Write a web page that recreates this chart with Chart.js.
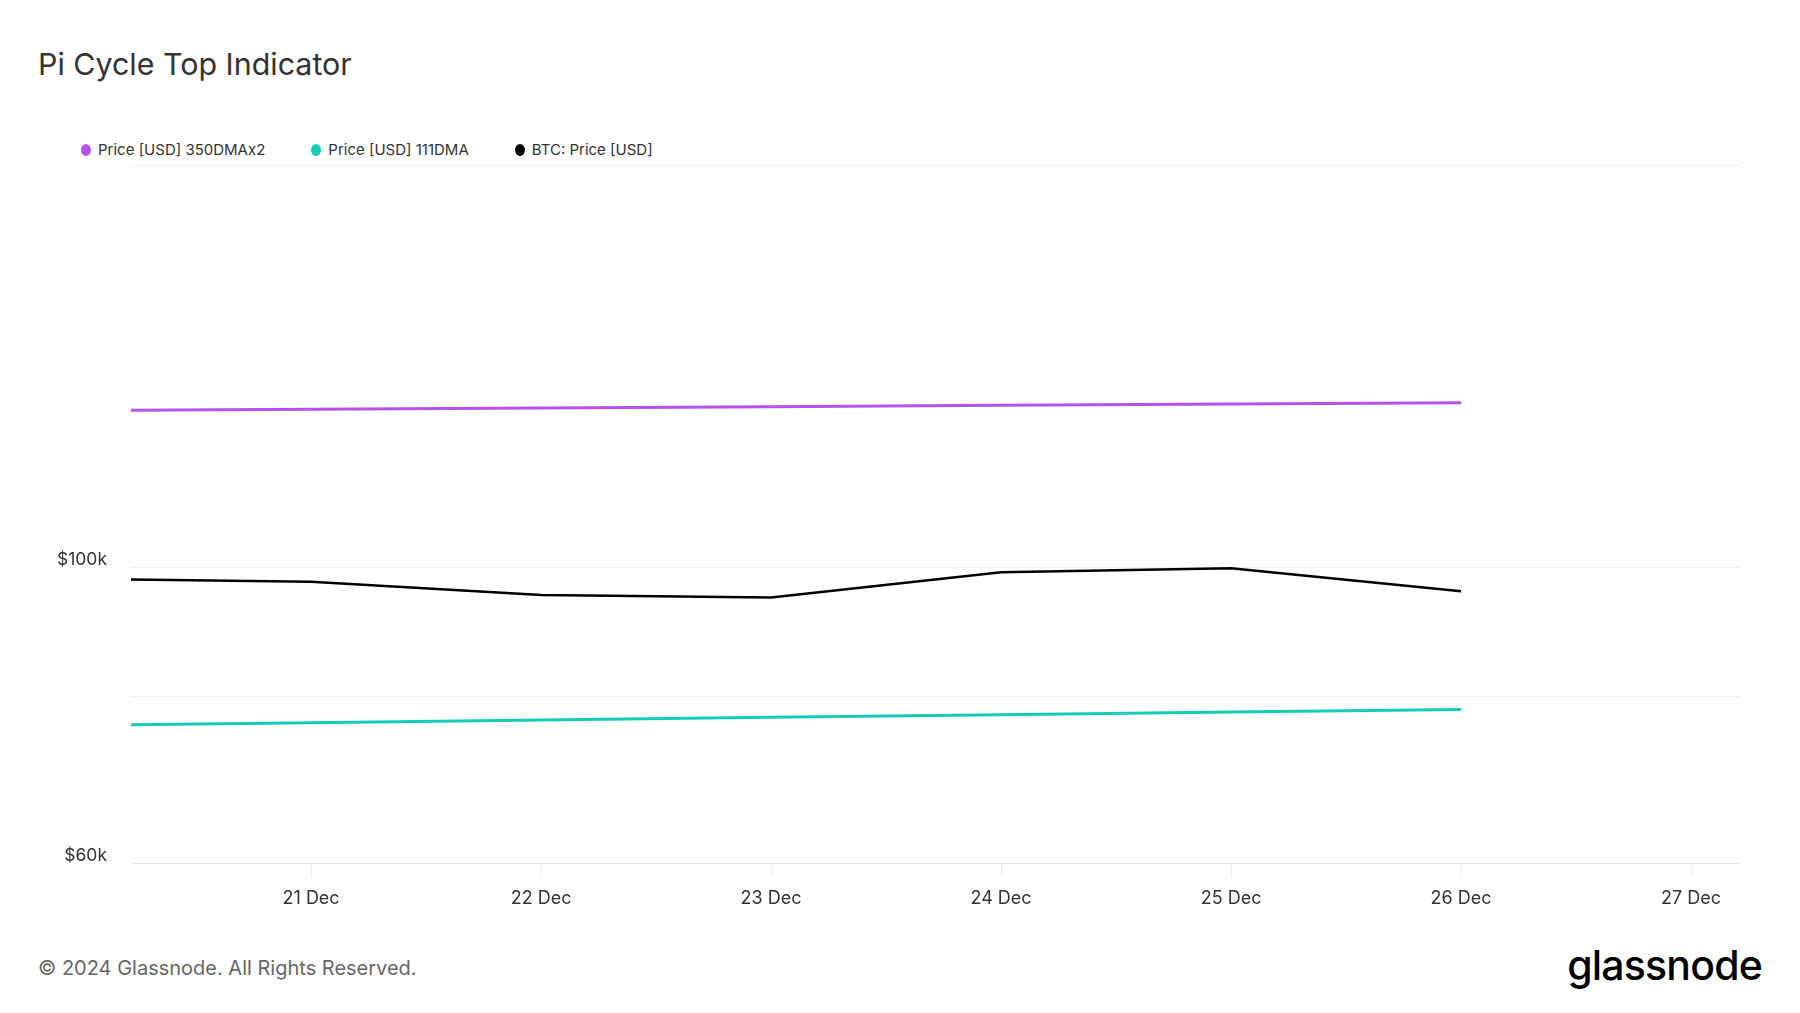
<!DOCTYPE html>
<html>
<head>
<meta charset="utf-8">
<script src="https://cdn.jsdelivr.net/npm/chart.js@4/dist/chart.umd.min.js"></script>
<style>
  html, body { margin: 0; padding: 0; background: #fff; }
  body { width: 1800px; height: 1013px; position: relative; overflow: hidden; font-family: Inter, "Noto Sans", sans-serif; }
  #title { position: absolute; left: 38px; top: 44px; font-size: 30.4px; color: #333; line-height: 40px; }
  #legend { position: absolute; left: 81px; top: 140px; display: flex; gap: 46px; font-size: 15px; color: #333; line-height: 20px; }
  #legend .item { display: flex; align-items: center; }
  #legend .dot { width: 10px; height: 12px; border-radius: 50%; margin-right: 7px; }
  #wrap { position: absolute; left: 0; top: 131px; width: 1800px; height: 809px; }
  #footer { position: absolute; left: 38px; top: 954px; font-size: 20px; color: #666; line-height: 28px; }
  #logo { position: absolute; right: 38px; top: 940px; font-size: 41px; font-weight: 500; color: #000; letter-spacing: -0.8px; line-height: 50px; }
</style>
</head>
<body>
<div id="title">Pi Cycle Top Indicator</div>
<div id="legend"></div>
<div id="wrap"><canvas id="chart"></canvas></div>
<div id="footer">© 2024 Glassnode. All Rights Reserved.</div>
<div id="logo">glassnode</div>
<script>
// days of December 2024
const days = [20, 21, 22, 23, 24, 25, 26];
const sma350x2 = [131000, 131300, 131600, 131900, 132200, 132500, 132800];
const dma111 = [76100, 76450, 76800, 77150, 77500, 77850, 78200];
const btcPrice = [98000, 97500, 95300, 94900, 99100, 99800, 95900];

const xTicks = [21, 22, 23, 24, 25, 26, 27];
const yTicks = [60000, 80000, 100000, 200000];
const yLabels = { 60000: '$60k', 100000: '$100k' };

const seriesNames = ['Price [USD] 350DMAx2', 'Price [USD] 111DMA', 'BTC: Price [USD]'];
const seriesColors = ['#b452f0', '#14cdb8', '#000000'];
const seriesValues = [sma350x2, dma111, btcPrice];

document.addEventListener('DOMContentLoaded', function() {
    // legend
    const legend = document.getElementById('legend');
    seriesNames.forEach(function(name, i) {
        const item = document.createElement('div');
        item.className = 'item';
        item.innerHTML = '<span class="dot" style="background:' + seriesColors[i] + '"></span><span>' + name + '</span>';
        legend.appendChild(item);
    });

    const ctx = document.getElementById('chart').getContext('2d');
    new Chart(ctx, {
        type: 'line',
        data: {
            datasets: seriesNames.map(function(name, i) {
                return {
                    label: name,
                    data: days.map(function(d, j) { return { x: d, y: seriesValues[i][j] }; }),
                    borderColor: seriesColors[i],
                    borderWidth: i === 2 ? 2.5 : 3,
                    pointRadius: 0,
                    tension: 0
                };
            })
        },
        options: {
            responsive: true,
            maintainAspectRatio: false,
            animation: false,
            layout: { padding: { top: 0, right: 60, left: 0, bottom: 0 } },
            plugins: {
                legend: { display: false },
                title: { display: false },
                tooltip: { enabled: false }
            },
            scales: {
                x: {
                    type: 'linear',
                    min: 20.217,
                    max: 27.213,
                    afterBuildTicks: function(axis) {
                        axis.ticks = xTicks.map(function(v) { return { value: v }; });
                    },
                    afterFit: function(axis) { axis.height = 77; },
                    grid: { drawOnChartArea: false, drawTicks: true, tickLength: 14, color: '#ececec' },
                    border: { display: true, color: '#e6e6e6' },
                    ticks: {
                        padding: 11,
                        color: '#333',
                        font: { family: 'Inter', size: 18 },
                        maxRotation: 0,
                        callback: function(v) { return v + ' Dec'; }
                    }
                },
                y: {
                    type: 'logarithmic',
                    min: 60000,
                    max: 200000,
                    afterBuildTicks: function(axis) {
                        axis.ticks = yTicks.map(function(v) { return { value: v }; });
                    },
                    afterFit: function(axis) { axis.width = 131; },
                    grid: { drawTicks: false, color: '#efefef' },
                    border: { display: false },
                    ticks: {
                        padding: 24,
                        labelOffset: -7,
                        color: '#333',
                        font: { family: 'Inter', size: 17.5 },
                        callback: function(v) { return yLabels[v] || ''; }
                    }
                }
            }
        }
    });
});
</script>
</body>
</html>
